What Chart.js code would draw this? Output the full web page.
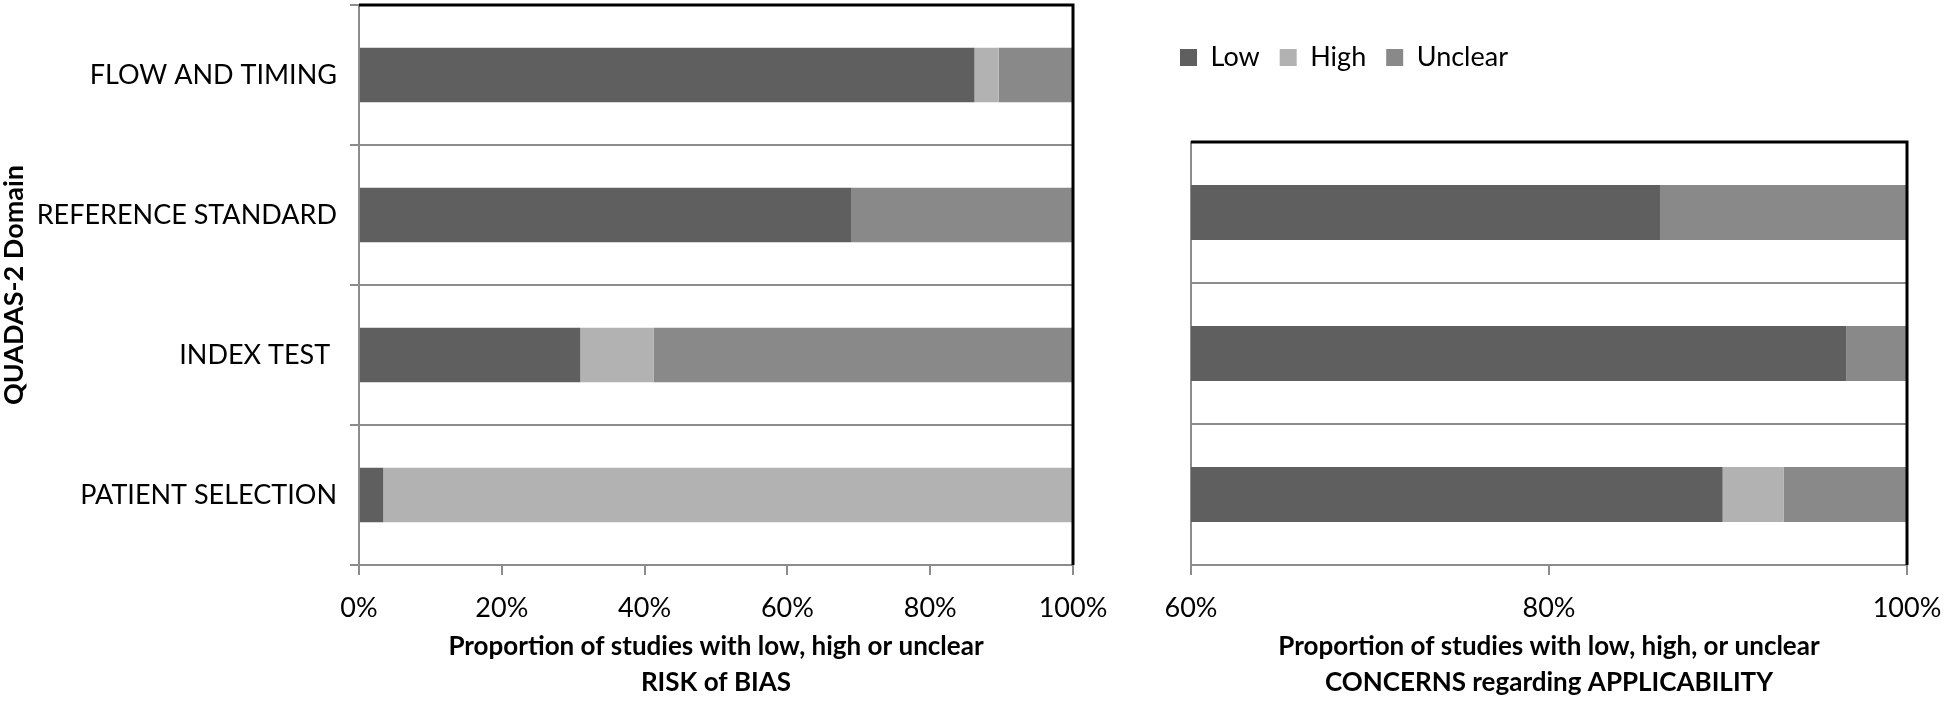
<!DOCTYPE html>
<html>
<head>
<meta charset="utf-8">
<script src="https://cdn.jsdelivr.net/npm/chart.js@4"></script>
<style>
  html, body { margin: 0; padding: 0; background: #fff; }
  body { width: 1944px; height: 701px; position: relative; overflow: hidden; }
  .box { position: absolute; top: 0; height: 701px; }
  #bias-box { left: 0; width: 1130px; }
  #appl-box { left: 1150px; width: 794px; }
</style>
</head>
<body>
<div class="box" id="bias-box"><canvas id="biasChart"></canvas></div>
<div class="box" id="appl-box"><canvas id="applChart"></canvas></div>
<script>
// risk of bias (left panel), share of studies in %
const biasDomains = ["FLOW AND TIMING", "REFERENCE STANDARD", "INDEX TEST ", "PATIENT SELECTION"];
const biasLow = [86.2, 69.0, 31.0, 3.4];
const biasHigh = [3.4, 0, 10.3, 96.6];
const biasUnclear = [10.3, 31.0, 58.6, 0];
const biasTicks = [0, 20, 40, 60, 80, 100];

// concerns regarding applicability (right panel)
const applDomains = ["REFERENCE STANDARD", "INDEX TEST", "PATIENT SELECTION"];
const applLow = [86.2, 96.6, 89.7];
const applHigh = [0, 0, 3.4];
const applUnclear = [13.8, 3.4, 6.9];
const applTicks = [60, 80, 100];

const seriesNames = ["Low", "High", "Unclear"];
const seriesColors = ["#5f5f5f", "#b2b2b2", "#898989"];
const gridGray = "#8c8c8c";

Chart.defaults.font.family = "Lato, 'Open Sans', sans-serif";
Chart.defaults.font.size = 27;
Chart.defaults.color = "#000";

function makeSets(values) {
  return values.map((vals, i) => ({
    label: seriesNames[i],
    data: vals,
    backgroundColor: seriesColors[i],
    borderWidth: 0,
    categoryPercentage: 1,
    barPercentage: 0.39
  }));
}

// black line on top and right of the plot area
const frame = {
  id: "frame",
  afterDatasetsDraw(chart) {
    const { ctx, chartArea: a } = chart;
    ctx.save();
    ctx.strokeStyle = "#000";
    ctx.lineWidth = 3;
    ctx.beginPath();
    ctx.moveTo(a.left, a.top);
    ctx.lineTo(a.right, a.top);
    ctx.lineTo(a.right, a.bottom);
    ctx.stroke();
    ctx.restore();
  }
};

// keep legend high above the plot
const legendGap = {
  id: "legendGap",
  beforeInit(chart) {
    const fit = chart.legend.fit;
    chart.legend.fit = function () {
      fit.call(this);
      this.height = 118;
    };
  }
};

function xScale(ticks, min, max, title) {
  return {
    stacked: true,
    min: min,
    max: max,
    afterBuildTicks: (axis) => { axis.ticks = ticks.map((value) => ({ value })); },
    afterFit: (s) => {
      s.height = 136;
      s.paddingLeft = 0;
      s.paddingRight = 0;
    },
    grid: { drawOnChartArea: false, color: gridGray, lineWidth: 2, tickLength: 10 },
    border: { color: gridGray, width: 2 },
    ticks: { callback: (v) => v + "%", padding: 17, maxRotation: 0 },
    title: {
      display: true,
      text: title,
      font: { size: 26, weight: "bold", lineHeight: 1.4 },
      padding: 0
    }
  };
}

new Chart(document.getElementById("biasChart"), {
  type: "bar",
  data: { labels: biasDomains, datasets: makeSets([biasLow, biasHigh, biasUnclear]) },
  options: {
    indexAxis: "y",
    responsive: true,
    maintainAspectRatio: false,
    animation: false,
    layout: { padding: { left: 0, top: 5, right: 57, bottom: 0 } },
    plugins: { legend: { display: false }, tooltip: { enabled: false } },
    scales: {
      x: xScale(biasTicks, 0, 100, ["Proportion of studies with low, high or unclear", "RISK of BIAS"]),
      y: {
        stacked: true,
        afterFit: (s) => {
          s.width = 359;
          s.paddingTop = 0;
          s.paddingBottom = 0;
        },
        grid: { color: gridGray, lineWidth: 2, tickLength: 9 },
        border: { color: gridGray, width: 2 },
        ticks: { padding: 13 },
        title: {
          display: true,
          text: "QUADAS-2 Domain",
          font: { size: 27, weight: "bold", lineHeight: 1.04 },
          padding: 0
        }
      }
    }
  },
  plugins: [frame]
});

new Chart(document.getElementById("applChart"), {
  type: "bar",
  data: { labels: applDomains, datasets: makeSets([applLow, applHigh, applUnclear]) },
  options: {
    indexAxis: "y",
    responsive: true,
    maintainAspectRatio: false,
    animation: false,
    layout: { padding: { left: 10, top: 24, right: 37, bottom: 0 } },
    plugins: {
      legend: {
        display: true,
        position: "top",
        align: "start",
        labels: { boxWidth: 17, boxHeight: 17, padding: 20, font: { size: 27 } }
      },
      tooltip: { enabled: false }
    },
    scales: {
      x: xScale(applTicks, 60, 100, ["Proportion of studies with low, high, or unclear", "CONCERNS regarding APPLICABILITY"]),
      y: {
        stacked: true,
        afterFit: (s) => {
          s.width = 31;
          s.paddingTop = 0;
          s.paddingBottom = 0;
        },
        grid: { color: gridGray, lineWidth: 2, drawTicks: false },
        border: { color: gridGray, width: 2 },
        ticks: { display: false }
      }
    }
  },
  plugins: [frame, legendGap]
});
</script>
</body>
</html>
